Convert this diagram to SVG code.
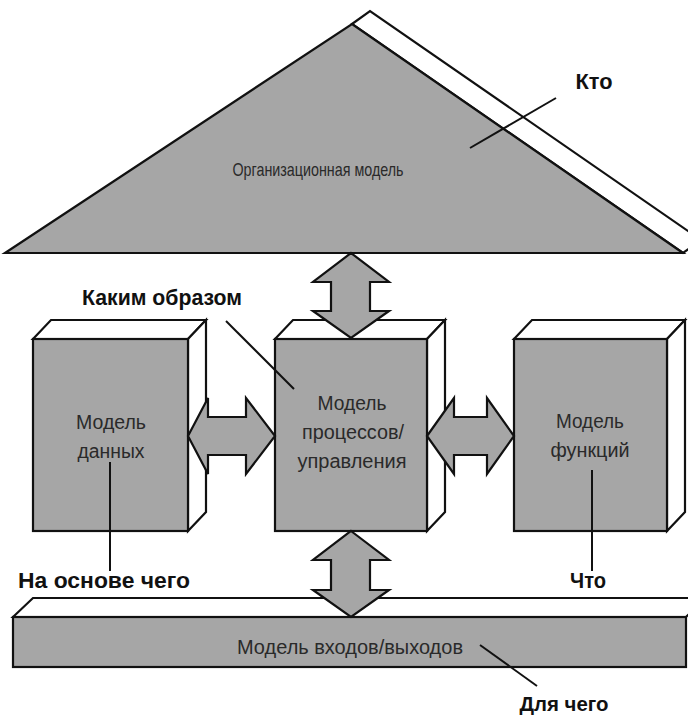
<svg xmlns="http://www.w3.org/2000/svg" width="688" height="717" viewBox="0 0 688 717">
<style>
.f{fill:#a6a6a6;stroke:#111;stroke-width:2.2;stroke-linejoin:miter}
.w{fill:#fff;stroke:#111;stroke-width:2.2}
.ln{stroke:#111;stroke-width:2;fill:none}
.t{font-family:"Liberation Sans",Arial,sans-serif;font-size:20px;fill:#2a2a2a;text-anchor:middle}
.b{font-family:"Liberation Sans",Arial,sans-serif;font-size:22px;font-weight:bold;fill:#111;text-anchor:middle}
</style>
<rect width="688" height="717" fill="#fff"/>
<g id="org">
<polygon class="w" points="352,24 370,11 701,240 683,253"/>
<polygon class="f" points="5,253 352,24 683,253"/>
<text class="t" x="318" y="176" style="font-size:19px" textLength="171" lengthAdjust="spacingAndGlyphs">Организационная модель</text>
</g>
<g id="data">
<polygon class="w" points="33,339 51,320 206,320 188,339"/>
<polygon class="w" points="188,339 206,320 206,512 188,531"/>
<rect class="f" x="33" y="339" width="155" height="192"/>
<text class="t" x="111" y="429" textLength="70" lengthAdjust="spacingAndGlyphs">Модель</text>
<text class="t" x="111" y="458" textLength="67" lengthAdjust="spacingAndGlyphs">данных</text>
</g>
<g id="process">
<polygon class="w" points="275,339 293,320 445,320 427,339"/>
<polygon class="w" points="427,339 445,320 445,512 427,531"/>
<rect class="f" x="275" y="339" width="152" height="192"/>
<text class="t" x="352" y="410" textLength="69" lengthAdjust="spacingAndGlyphs">Модель</text>
<text class="t" x="353" y="439" textLength="102" lengthAdjust="spacingAndGlyphs">процессов/</text>
<text class="t" x="352" y="468" textLength="109" lengthAdjust="spacingAndGlyphs">управления</text>
</g>
<g id="functions">
<polygon class="w" points="514,339 532,320 685,320 667,339"/>
<polygon class="w" points="667,339 685,320 685,512 667,531"/>
<rect class="f" x="514" y="339" width="153" height="192"/>
<text class="t" x="590" y="428" textLength="68" lengthAdjust="spacingAndGlyphs">Модель</text>
<text class="t" x="590" y="457" textLength="79" lengthAdjust="spacingAndGlyphs">функций</text>
</g>
<g id="io">
<polygon class="w" points="13,617 33,598 706,598 686,617"/>
<rect class="f" x="13" y="617" width="673" height="50"/>
<text class="t" x="350" y="654" textLength="226" lengthAdjust="spacingAndGlyphs">Модель входов/выходов</text>
</g>
<g id="connectors">
<polygon class="f" points="351,253 389,282 370,282 370,311 389,311 351,338 313,311 331,311 331,282 313,282"/>
<polygon class="f" points="351,531 389,560 370,560 370,590 389,590 351,617 313,590 331,590 331,560 313,560"/>
<polygon class="f" points="188,436 208,398 208,417 246,417 246,398 275,436 246,474 246,455 208,455 208,474"/>
<polygon class="f" points="427,436 454,398 454,417 487,417 487,398 514,436 487,474 487,455 454,455 454,474"/>
<line class="ln" x1="556" y1="98" x2="470" y2="148"/>
<line class="ln" x1="226" y1="321" x2="294" y2="389"/>
<line class="ln" x1="110" y1="462" x2="110" y2="571"/>
<line class="ln" x1="592" y1="470" x2="592" y2="571"/>
<line class="ln" x1="480" y1="645" x2="537" y2="686"/>
</g>
<g id="labels">
<text class="b" x="594" y="89" textLength="37" lengthAdjust="spacingAndGlyphs">Кто</text>
<text class="b" x="162" y="305" textLength="160" lengthAdjust="spacingAndGlyphs">Каким образом</text>
<text class="b" x="104" y="588" textLength="172" lengthAdjust="spacingAndGlyphs">На основе чего</text>
<text class="b" x="588" y="588" textLength="36" lengthAdjust="spacingAndGlyphs">Что</text>
<text class="b" x="564" y="711" style="font-size:20px" textLength="89" lengthAdjust="spacingAndGlyphs">Для чего</text>
</g>
</svg>
